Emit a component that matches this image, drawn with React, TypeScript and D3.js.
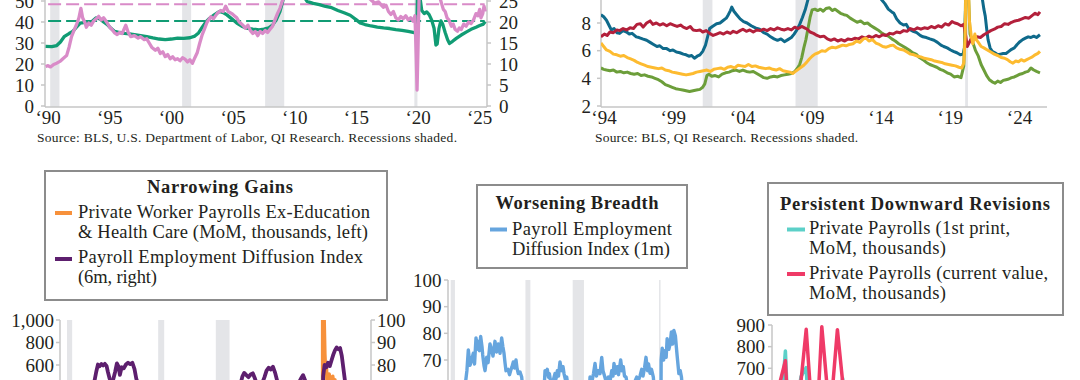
import React from 'react';
import * as d3 from 'd3';

type P = [number, number];

// ---------- Top-left panel ----------
const TL_X_TICKS = [1990, 1995, 2000, 2005, 2010, 2015, 2020, 2025];
const TL_X_LABELS = ['‘90', '‘95', '‘00', '‘05', '‘10', '‘15', '‘20', '‘25'];
const TL_LEFT_TICKS = [0, 10, 20, 30, 40, 50];
const TL_RIGHT_TICKS = [0, 5, 10, 15, 20, 25];
const TL_RECESSIONS: P[] = [[1990.17, 1990.92], [2000.87, 2001.6], [2007.6, 2009.15], [2019.7, 2019.95]];
const TL_GREEN_AVG = 40.5; // left axis
const TL_PINK_AVG = 24.2; // right axis
const TL_GREEN: P[] = [[1989.8,28.4],[1990.3,28.3],[1990.7,28.8],[1991.0,30.5],[1991.3,33],[1991.7,34.5],[1992.0,35.5],[1992.3,37.5],[1992.6,39.5],[1993.0,39.8],[1993.3,39],[1993.6,40.5],[1993.9,42],[1994.2,41.5],[1994.5,40],[1994.8,38.8],[1995.1,37],[1995.4,35.5],[1995.8,35],[1996.2,34.6],[1996.6,34.3],[1997.0,34],[1997.5,33.5],[1998.0,33],[1998.5,32.4],[1999.0,31.9],[1999.5,31.6],[2000.0,31.9],[2000.5,32.3],[2001.0,32.2],[2001.5,32.5],[2001.9,33.3],[2002.2,34.8],[2002.5,37.5],[2002.8,40],[2003.1,41.8],[2003.5,43.5],[2003.9,45],[2004.2,44.5],[2004.5,43.4],[2004.9,41.5],[2005.3,39.5],[2005.7,38],[2006.1,37.1],[2006.6,36.6],[2007.1,36.3],[2007.5,36.6],[2007.9,37.2],[2008.2,38.5],[2008.5,41],[2008.8,45],[2009.05,50.5],[2009.3,56],[2009.8,60],[2010.3,57],[2010.7,52.5],[2011.0,49.8],[2011.5,48.9],[2012.0,48.3],[2012.5,47.4],[2013.0,46.8],[2013.5,45.5],[2014.0,44.4],[2014.5,43.2],[2015.0,41],[2015.3,39.6],[2015.7,38.8],[2016.2,38.1],[2016.7,37.6],[2017.2,37.2],[2017.7,36.9],[2018.2,36.4],[2018.7,36],[2019.2,35.5],[2019.6,35.1],[2019.8,34.8],[2019.9,35],[2020.0,70],[2020.15,52],[2020.3,45.5],[2020.5,44],[2020.7,44.8],[2020.9,43.5],[2021.1,41],[2021.3,37],[2021.45,29],[2021.55,29.5],[2021.7,37],[2021.85,40.5],[2022.0,39],[2022.2,35],[2022.4,31.5],[2022.55,29.8],[2022.8,30.8],[2023.1,32.2],[2023.5,33.8],[2023.9,35.2],[2024.3,36.5],[2024.7,37.5],[2025.0,38.3],[2025.3,39],[2025.45,40.2]];
const TL_PINK: P[] = [[1989.8,9.4],[1990.0,9.6],[1990.2,9.3],[1990.45,9.9],[1990.7,10.2],[1991.0,10.7],[1991.2,11.25],[1991.5,12],[1991.7,14],[1991.9,16.5],[1992.1,18],[1992.3,19.35],[1992.5,21],[1992.66,23.25],[1992.8,21],[1993.0,19.75],[1993.1,18.75],[1993.3,19.75],[1993.5,19.25],[1993.7,20.25],[1993.9,20.75],[1994.1,21.35],[1994.3,20.5],[1994.5,21],[1994.8,19.75],[1995.0,18.75],[1995.2,18.15],[1995.4,17.4],[1995.6,17],[1995.8,17.5],[1996.0,17.25],[1996.3,19.25],[1996.5,17.5],[1996.7,16.5],[1997.0,16.75],[1997.3,16.15],[1997.5,16.5],[1997.8,15.8],[1998.0,16],[1998.2,15],[1998.4,14],[1998.7,13.25],[1998.9,13.75],[1999.1,12.5],[1999.3,12.9],[1999.5,11.75],[1999.7,12.25],[1999.9,11.25],[2000.1,11.75],[2000.3,11],[2000.5,11.25],[2000.7,10.75],[2000.9,11.5],[2001.1,11.15],[2001.3,10.5],[2001.5,11],[2001.7,10.15],[2001.9,11.5],[2002.1,12.75],[2002.3,15],[2002.5,17],[2002.7,18.5],[2002.9,20],[2003.2,21.25],[2003.4,20.75],[2003.7,22],[2004.0,22.75],[2004.2,22.5],[2004.4,23.75],[2004.6,22.5],[2004.9,22],[2005.1,21.5],[2005.3,21],[2005.5,20],[2005.8,19.25],[2006.0,18.5],[2006.2,19.25],[2006.4,18],[2006.6,17.25],[2006.8,17.75],[2007.0,16.75],[2007.2,17.75],[2007.4,17.25],[2007.6,18],[2007.8,17.5],[2008.0,18.25],[2008.2,19],[2008.4,20.5],[2008.6,22],[2008.8,23.25],[2009.0,25],[2009.3,27],[2010.0,28.5],[2011.0,30],[2012.0,31],[2013.0,30.5],[2014.0,29],[2015.0,27.5],[2015.8,26.3],[2016.2,25.2],[2016.5,24.5],[2016.8,24.8],[2017.0,24.1],[2017.2,23.5],[2017.4,24],[2017.6,22.5],[2017.8,21.8],[2018.0,22.5],[2018.2,21],[2018.4,20.5],[2018.6,21.3],[2018.8,20.8],[2019.0,21.5],[2019.2,20.5],[2019.4,21],[2019.6,20.2],[2019.75,21.5],[2019.85,12],[2019.92,3.8],[2020.0,14],[2020.1,28],[2020.5,35],[2021.0,32],[2021.5,28],[2021.8,25.5],[2021.9,24.5],[2022.05,23],[2022.2,22.5],[2022.35,21],[2022.5,20.5],[2022.7,19],[2022.85,19.5],[2023.0,18.3],[2023.2,17.8],[2023.35,18.6],[2023.5,18.2],[2023.7,19.5],[2023.9,19],[2024.1,20],[2024.3,19.6],[2024.5,20.5],[2024.7,22],[2024.85,21.5],[2025.0,23],[2025.1,21],[2025.25,22],[2025.35,23.8],[2025.45,22.5]];
const TL_SOURCE = 'Source: BLS, U.S. Department of Labor, QI Research. Recessions shaded.';

// ---------- Top-right panel ----------
const TR_X_TICKS = [1994, 1999, 2004, 2009, 2014, 2019, 2024];
const TR_X_LABELS = ['‘94', '‘99', '‘04', '‘09', '‘14', '‘19', '‘24'];
const TR_Y_TICKS = [2, 4, 6, 8];
const RECESSIONS: P[] = [[1990.6, 1991.2], [2001.2, 2001.9], [2007.9, 2009.5], [2020.15, 2020.35]];
const TR_BLUE: P[] = [[1993.85,8.6],[1994.05,8.45],[1994.25,8.2],[1994.45,7.8],[1994.6,7.5],[1994.8,7.6],[1995.0,7.3],[1995.2,7.25],[1995.45,7.45],[1995.7,7.35],[1995.9,7.2],[1996.1,7.25],[1996.4,7.0],[1996.6,6.95],[1996.85,6.85],[1997.15,6.75],[1997.4,6.6],[1997.65,6.45],[1997.9,6.3],[1998.1,6.35],[1998.35,6.15],[1998.6,6.15],[1998.85,6.0],[1999.05,6.05],[1999.3,5.9],[1999.55,5.85],[1999.8,5.75],[2000.0,5.7],[2000.2,5.6],[2000.4,5.65],[2000.6,5.45],[2000.8,5.6],[2001.0,5.7],[2001.2,5.95],[2001.4,6.4],[2001.55,7.0],[2001.7,7.6],[2001.9,7.75],[2002.2,7.95],[2002.45,8.0],[2002.7,8.2],[2002.9,8.35],[2003.05,8.6],[2003.2,8.9],[2003.3,9.15],[2003.45,8.85],[2003.65,8.6],[2003.9,8.3],[2004.15,8.1],[2004.4,8.0],[2004.7,7.8],[2005.0,7.65],[2005.3,7.55],[2005.6,7.3],[2005.85,7.2],[2006.1,7.0],[2006.35,6.85],[2006.6,6.75],[2006.85,6.85],[2007.1,6.65],[2007.35,6.8],[2007.6,6.95],[2007.8,7.2],[2008.0,7.5],[2008.2,7.9],[2008.4,8.4],[2008.6,8.95],[2008.8,9.7],[2009.0,10.6],[2009.5,12.2],[2010.0,13.0],[2010.5,13.2],[2011.0,12.9],[2011.5,12.4],[2012.0,11.8],[2012.5,11.2],[2013.0,10.8],[2013.5,10.3],[2013.9,10.0],[2014.1,9.7],[2014.35,9.4],[2014.6,9.0],[2014.85,8.8],[2015.0,8.7],[2015.2,8.3],[2015.45,8.0],[2015.7,7.85],[2015.9,7.9],[2016.1,7.55],[2016.4,7.4],[2016.65,7.3],[2016.9,7.1],[2017.1,7.0],[2017.35,6.95],[2017.6,6.85],[2017.9,6.75],[2018.15,6.6],[2018.4,6.4],[2018.6,6.3],[2018.85,6.2],[2019.1,6.05],[2019.3,5.95],[2019.55,5.85],[2019.8,5.7],[2020.0,5.75],[2020.1,6.2],[2020.2,10],[2020.3,18],[2020.5,16],[2020.8,13.5],[2021.0,12],[2021.2,11],[2021.35,10],[2021.5,9.0],[2021.6,8.5],[2021.7,7.6],[2021.8,6.8],[2021.95,6.2],[2022.1,5.95],[2022.3,5.85],[2022.5,5.7],[2022.7,5.75],[2022.9,5.8],[2023.1,5.8],[2023.3,5.95],[2023.5,6.1],[2023.7,6.2],[2023.9,6.45],[2024.1,6.65],[2024.3,6.8],[2024.5,6.9],[2024.7,7.0],[2024.9,6.95],[2025.1,7.05],[2025.3,6.95],[2025.55,7.15]];
const TR_RED: P[] = [[1993.85,7.0],[1994.1,7.2],[1994.3,7.1],[1994.5,7.35],[1994.75,7.3],[1995.0,7.5],[1995.2,7.45],[1995.45,7.6],[1995.7,7.5],[1995.95,7.65],[1996.2,7.6],[1996.45,7.9],[1996.7,7.95],[1996.9,7.7],[1997.15,8.0],[1997.4,8.15],[1997.6,7.9],[1997.85,8.0],[1998.1,7.85],[1998.35,7.95],[1998.6,7.8],[1998.85,7.95],[1999.1,7.85],[1999.35,7.75],[1999.6,7.85],[1999.8,7.7],[2000.05,7.6],[2000.3,7.75],[2000.5,7.5],[2000.75,7.45],[2001.0,7.5],[2001.2,7.35],[2001.45,7.45],[2001.7,7.25],[2001.95,7.1],[2002.2,7.2],[2002.45,7.3],[2002.7,7.2],[2002.95,7.35],[2003.2,7.25],[2003.4,7.4],[2003.65,7.3],[2003.9,7.45],[2004.1,7.55],[2004.35,7.4],[2004.6,7.5],[2004.85,7.35],[2005.1,7.5],[2005.35,7.45],[2005.6,7.55],[2005.85,7.45],[2006.1,7.6],[2006.35,7.5],[2006.6,7.65],[2006.85,7.55],[2007.1,7.5],[2007.35,7.6],[2007.6,7.5],[2007.85,7.7],[2008.1,7.6],[2008.35,7.75],[2008.55,7.65],[2008.75,7.55],[2008.95,7.35],[2009.2,7.25],[2009.45,7.1],[2009.7,7.0],[2009.95,7.05],[2010.2,6.85],[2010.45,6.75],[2010.7,6.85],[2010.95,6.7],[2011.2,6.8],[2011.45,6.7],[2011.7,6.85],[2011.95,6.8],[2012.2,6.9],[2012.45,6.85],[2012.7,7.0],[2012.95,6.9],[2013.2,7.05],[2013.45,6.95],[2013.7,7.1],[2013.95,7.0],[2014.2,7.15],[2014.45,7.1],[2014.7,7.25],[2014.95,7.2],[2015.2,7.35],[2015.45,7.3],[2015.7,7.45],[2015.95,7.4],[2016.2,7.6],[2016.45,7.5],[2016.7,7.65],[2016.95,7.55],[2017.2,7.65],[2017.45,7.6],[2017.7,7.75],[2017.95,7.65],[2018.2,7.8],[2018.45,7.7],[2018.7,7.95],[2018.95,7.85],[2019.2,8.1],[2019.4,8.0],[2019.6,7.95],[2019.85,7.8],[2020.05,7.9],[2020.2,7.0],[2020.3,6.3],[2020.45,6.6],[2020.6,6.9],[2020.8,6.8],[2021.0,7.0],[2021.25,6.95],[2021.5,7.15],[2021.75,7.3],[2022.0,7.45],[2022.25,7.55],[2022.5,7.7],[2022.75,7.75],[2023.0,7.95],[2023.25,7.9],[2023.5,8.05],[2023.75,8.15],[2024.0,8.2],[2024.25,8.3],[2024.5,8.4],[2024.75,8.35],[2025.0,8.55],[2025.2,8.7],[2025.4,8.6],[2025.55,8.8]];
const TR_YELLOW: P[] = [[1993.85,6.55],[1994.05,6.3],[1994.25,6.05],[1994.5,5.95],[1994.75,5.75],[1995.0,5.7],[1995.25,5.6],[1995.5,5.65],[1995.75,5.5],[1996.0,5.4],[1996.25,5.3],[1996.5,5.15],[1996.75,5.05],[1997.0,4.95],[1997.25,4.85],[1997.5,4.8],[1997.75,4.75],[1998.0,4.7],[1998.25,4.75],[1998.5,4.6],[1998.75,4.55],[1999.0,4.45],[1999.25,4.4],[1999.5,4.35],[1999.75,4.3],[2000.0,4.25],[2000.25,4.3],[2000.5,4.35],[2000.75,4.45],[2001.0,4.5],[2001.25,4.55],[2001.5,4.6],[2001.75,4.5],[2002.0,4.65],[2002.25,4.7],[2002.5,4.75],[2002.75,4.65],[2003.0,4.8],[2003.25,4.85],[2003.5,4.75],[2003.75,4.95],[2004.0,4.9],[2004.25,4.85],[2004.5,5.0],[2004.75,4.85],[2005.0,4.9],[2005.25,4.8],[2005.5,4.75],[2005.75,4.7],[2006.0,4.75],[2006.25,4.65],[2006.5,4.6],[2006.75,4.7],[2007.0,4.55],[2007.25,4.5],[2007.5,4.45],[2007.7,4.35],[2007.9,4.5],[2008.1,4.65],[2008.3,4.8],[2008.5,4.95],[2008.7,5.15],[2008.9,5.4],[2009.1,5.6],[2009.3,5.75],[2009.55,5.85],[2009.8,6.0],[2010.05,5.95],[2010.3,6.15],[2010.55,6.25],[2010.8,6.2],[2011.05,6.3],[2011.3,6.4],[2011.55,6.35],[2011.8,6.45],[2012.05,6.5],[2012.3,6.7],[2012.55,6.6],[2012.8,6.85],[2013.0,6.9],[2013.2,6.7],[2013.45,6.8],[2013.7,6.55],[2013.95,6.45],[2014.2,6.3],[2014.45,6.25],[2014.7,6.35],[2014.95,6.4],[2015.2,6.2],[2015.45,6.1],[2015.7,6.05],[2015.95,5.9],[2016.2,5.75],[2016.45,5.7],[2016.7,5.6],[2016.95,5.55],[2017.2,5.45],[2017.45,5.4],[2017.7,5.35],[2017.95,5.25],[2018.2,5.2],[2018.45,5.15],[2018.7,5.05],[2018.95,5.0],[2019.2,4.95],[2019.45,4.9],[2019.7,4.8],[2019.9,4.75],[2020.05,5.1],[2020.15,7],[2020.25,15],[2020.35,12],[2020.45,8.2],[2020.6,7.0],[2020.7,6.5],[2020.85,7.2],[2020.95,6.8],[2021.1,6.6],[2021.3,6.3],[2021.5,6.2],[2021.75,6.05],[2022.0,5.9],[2022.25,5.75],[2022.5,5.65],[2022.75,5.5],[2023.0,5.45],[2023.2,5.35],[2023.4,5.2],[2023.6,5.1],[2023.8,5.25],[2024.0,5.2],[2024.2,5.35],[2024.4,5.25],[2024.6,5.35],[2024.8,5.45],[2025.0,5.55],[2025.2,5.7],[2025.4,5.8],[2025.55,5.95]];
const TR_GREEN: P[] = [[1993.85,4.75],[1994.05,4.65],[1994.25,4.6],[1994.5,4.55],[1994.75,4.6],[1995.0,4.45],[1995.25,4.5],[1995.5,4.4],[1995.75,4.45],[1996.0,4.35],[1996.25,4.3],[1996.5,4.35],[1996.75,4.2],[1997.0,4.25],[1997.25,4.15],[1997.5,4.1],[1997.75,4.0],[1998.0,3.9],[1998.25,3.75],[1998.5,3.55],[1998.75,3.45],[1999.0,3.35],[1999.25,3.25],[1999.5,3.2],[1999.75,3.15],[2000.0,3.1],[2000.25,3.05],[2000.5,3.1],[2000.75,3.15],[2001.0,3.2],[2001.2,3.35],[2001.35,3.6],[2001.5,4.2],[2001.65,4.3],[2001.85,4.15],[2002.1,4.2],[2002.35,4.1],[2002.6,4.3],[2002.85,4.4],[2003.1,4.45],[2003.35,4.55],[2003.6,4.6],[2003.85,4.5],[2004.1,4.6],[2004.35,4.5],[2004.6,4.45],[2004.85,4.5],[2005.1,4.35],[2005.35,4.2],[2005.6,4.05],[2005.85,4.0],[2006.1,4.1],[2006.35,4.15],[2006.6,4.1],[2006.85,4.2],[2007.1,4.25],[2007.35,4.3],[2007.6,4.35],[2007.85,4.5],[2008.05,4.75],[2008.2,5.0],[2008.35,5.5],[2008.5,6.2],[2008.65,6.8],[2008.8,7.6],[2008.95,8.4],[2009.1,8.95],[2009.3,9.0],[2009.5,8.9],[2009.7,9.0],[2009.9,8.85],[2010.1,9.05],[2010.35,9.1],[2010.55,8.9],[2010.75,9.0],[2010.95,8.85],[2011.15,8.7],[2011.4,8.6],[2011.6,8.55],[2011.85,8.35],[2012.1,8.2],[2012.35,8.05],[2012.6,8.15],[2012.85,7.95],[2013.1,8.0],[2013.35,7.8],[2013.6,7.65],[2013.85,7.5],[2014.1,7.3],[2014.35,7.15],[2014.6,7.05],[2014.85,6.85],[2015.1,6.7],[2015.35,6.5],[2015.6,6.35],[2015.85,6.2],[2016.1,6.05],[2016.35,5.85],[2016.6,5.75],[2016.85,5.5],[2017.1,5.35],[2017.35,5.15],[2017.6,5.0],[2017.85,4.9],[2018.1,4.8],[2018.35,4.65],[2018.6,4.55],[2018.85,4.4],[2019.1,4.3],[2019.35,4.1],[2019.6,4.15],[2019.85,4.05],[2020.05,4.9],[2020.15,8],[2020.25,15],[2020.35,11],[2020.5,7.2],[2020.7,6.6],[2020.9,6.0],[2021.1,5.6],[2021.3,5.0],[2021.5,4.6],[2021.7,4.2],[2021.9,3.9],[2022.1,3.75],[2022.3,3.65],[2022.5,3.8],[2022.7,3.7],[2022.9,3.85],[2023.1,3.9],[2023.3,3.95],[2023.5,4.05],[2023.7,4.1],[2023.9,4.2],[2024.1,4.3],[2024.3,4.35],[2024.5,4.45],[2024.7,4.5],[2024.9,4.75],[2025.1,4.6],[2025.3,4.5],[2025.55,4.4]];
const TR_SOURCE = 'Source: BLS, QI Research. Recessions shaded.';

// ---------- Bottom-left: Narrowing Gains ----------
const BL_TITLE = 'Narrowing Gains';
const BL_LEGEND_1 = ['Private Worker Payrolls Ex-Education', '& Health Care (MoM, thousands, left)'];
const BL_LEGEND_2 = ['Payroll Employment Diffusion Index', '(6m, right)'];
const BL_LEFT_TICKS = [1000, 800, 600];
const BL_LEFT_LABELS = ['1,000', '800', '600'];
const BL_RIGHT_TICKS = [100, 90, 80];
const BL_ORANGE: P[] = [[1990.0,60],[1990.8,-80],[1991.5,-20],[1992,80],[1993,180],[1994,250],[1995,120],[1996,170],[1997,190],[1998,150],[1999,170],[2000,120],[2001.0,-50],[2001.8,-200],[2002.5,-30],[2003.5,40],[2004.5,150],[2005.5,140],[2006.5,100],[2007.5,20],[2008.5,-250],[2009.0,-600],[2009.5,-300],[2010.3,50],[2011,120],[2012,110],[2013,120],[2014,160],[2015,140],[2016,110],[2017,100],[2018,130],[2019,90],[2019.9,110],[2020.17,-1200],[2020.25,-14000],[2020.33,2600],[2020.42,3400],[2020.5,1000],[2020.58,700],[2020.67,540],[2020.75,620],[2020.83,430],[2020.92,250],[2021.0,310],[2021.08,520],[2021.17,480],[2021.25,210],[2021.33,330],[2021.42,460],[2021.5,500],[2021.58,380],[2021.67,300],[2021.75,470],[2021.83,380],[2021.92,350],[2022.0,320],[2022.5,250],[2023,120],[2023.5,60],[2024,50],[2024.5,40],[2025,30],[2025.5,20]];
const BL_PURPLE: P[] = [[1990.0,52],[1990.5,48],[1991.0,38],[1991.5,45],[1992.0,55],[1992.5,62],[1993.0,68],[1993.5,71],[1993.8,73],[1994.0,77],[1994.2,80.2],[1994.4,79.5],[1994.6,80.4],[1994.8,79.8],[1995.0,80.5],[1995.2,79.6],[1995.35,77],[1995.55,74],[1995.8,72],[1996.0,74],[1996.2,77],[1996.4,80.7],[1996.6,79.3],[1996.75,75.6],[1996.95,79],[1997.2,78.5],[1997.45,80.2],[1997.7,81],[1997.95,80.4],[1998.2,81],[1998.45,78.2],[1998.65,74],[1998.9,71],[1999.3,70],[1999.8,68],[2000.3,66],[2000.8,58],[2001.3,45],[2001.8,38],[2002.3,42],[2002.8,50],[2003.5,56],[2004.2,63],[2005.0,66],[2005.8,64],[2006.5,66],[2007.2,60],[2007.8,52],[2008.4,38],[2009.0,22],[2009.5,28],[2010.0,52],[2010.5,66],[2010.8,72],[2011.0,75],[2011.2,76.5],[2011.45,75.5],[2011.7,74.6],[2011.95,75.8],[2012.2,76.3],[2012.45,74],[2012.8,70],[2013.2,71],[2013.55,74.5],[2013.8,77.5],[2014.05,78.8],[2014.3,78],[2014.55,79.2],[2014.8,76.5],[2015.1,72],[2015.6,68],[2016.2,66],[2016.8,68],[2017.4,71],[2017.8,74],[2018.05,75.5],[2018.3,73],[2018.8,69],[2019.4,66],[2019.9,62],[2020.15,40],[2020.3,30],[2020.38,75],[2020.55,80],[2020.75,79],[2020.95,81],[2021.15,79.5],[2021.35,82],[2021.55,84.5],[2021.75,86.5],[2021.95,87.8],[2022.15,87],[2022.35,87.5],[2022.55,84],[2022.75,78],[2022.95,72],[2023.4,67],[2023.9,63],[2024.4,62],[2024.9,60],[2025.4,58]];

// ---------- Bottom-middle: Worsening Breadth ----------
const BM_TITLE = 'Worsening Breadth';
const BM_LEGEND = ['Payroll Employment', 'Diffusion Index (1m)'];
const BM_TICKS = [100, 90, 80, 70];
const BM_BLUE: P[] = [[1990.0,55],[1990.5,50],[1991.0,40],[1991.5,45],[1992.0,52],[1992.4,58],[1992.63,60],[1992.9,66],[1993.1,73.8],[1993.34,68],[1993.58,70],[1993.8,72.5],[1993.98,68.5],[1994.19,78.3],[1994.33,74],[1994.5,77],[1994.68,73.5],[1994.85,78.8],[1995.04,75],[1995.14,71.9],[1995.32,68],[1995.47,66],[1995.7,71],[1995.9,69],[1996.17,76],[1996.4,73.8],[1996.6,71.5],[1996.88,77],[1997.1,73],[1997.35,76],[1997.6,72.5],[1997.83,78.3],[1998.0,75],[1998.16,72.5],[1998.3,69],[1998.44,66],[1998.73,66.5],[1998.94,64.5],[1999.1,66],[1999.3,67.5],[1999.48,69.3],[1999.65,67],[1999.86,70],[2000.0,67],[2000.19,64.9],[2000.43,65.5],[2000.67,63.6],[2000.86,58],[2001.2,45],[2001.8,38],[2002.3,46],[2003.0,52],[2003.6,58],[2003.9,62],[2003.98,66],[2004.12,64.5],[2004.3,66.5],[2004.47,63.5],[2004.59,64.9],[2004.83,61],[2005.11,62],[2005.39,64.9],[2005.54,63],[2005.72,66],[2005.89,64],[2006.1,69.3],[2006.32,66],[2006.53,67.5],[2006.67,64.9],[2006.88,62.5],[2007.05,63.6],[2007.24,60],[2007.8,50],[2008.5,35],[2009.0,25],[2009.5,40],[2010.0,55],[2010.3,60],[2010.36,63.6],[2010.64,62],[2010.86,65],[2011.07,68.7],[2011.28,64],[2011.5,66],[2011.78,64.9],[2012.02,71],[2012.2,66],[2012.42,64],[2012.63,62],[2012.96,63.6],[2013.2,62],[2013.44,66],[2013.62,64],[2013.76,68.7],[2013.98,65],[2014.23,67.5],[2014.4,64.5],[2014.54,67],[2014.71,70],[2014.9,66],[2015.08,67.5],[2015.25,64],[2015.47,63.6],[2015.68,60],[2016.0,58],[2016.5,60.5],[2016.98,63.6],[2017.24,62.5],[2017.45,64],[2017.69,66.5],[2017.88,64],[2018.09,67],[2018.3,71],[2018.52,66],[2018.66,68.5],[2018.87,65],[2019.08,66.5],[2019.34,63.6],[2019.5,58],[2019.8,55],[2020.1,60],[2020.25,10],[2020.4,40],[2020.45,70],[2020.6,74.4],[2020.8,70],[2020.97,73.5],[2021.16,71],[2021.3,78],[2021.54,74],[2021.72,76],[2021.9,80.5],[2022.08,76],[2022.25,81.1],[2022.47,79],[2022.6,75],[2022.7,72],[2022.96,64.9],[2023.15,66],[2023.33,63.6],[2023.5,58],[2024.0,55],[2024.5,57],[2025.0,52],[2025.4,50]];

// ---------- Bottom-right: Persistent Downward Revisions ----------
const BR_TITLE = 'Persistent Downward Revisions';
const BR_LEGEND_1 = ['Private Payrolls (1st print,', 'MoM, thousands)'];
const BR_LEGEND_2 = ['Private Payrolls (current value,', 'MoM, thousands)'];
const BR_TICKS = [900, 800, 700];
// monthly, Jan 2021 .. Jun 2025
const BR_FIRST = [6,465,780,218,492,662,703,243,317,604,235,211, 444,654,426,406,333,381,471,308,288,233,221,220, 443,265,189,230,283,149,172,179,263,99,150,164, 317,223,232,167,229,136,97,118,223,-28,194,223, 111,140,209,167,140,74];
const BR_CURRENT = [520,640,735,250,470,640,880,530,420,892,620,590, 878,640,420,300,330,300,520,320,280,300,240,180, 420,230,110,180,200,150,150,120,200,80,120,220, 100,180,200,100,170,90,60,70,200,10,200,270, 80,100,120,130,110,70];

const C = {
  tlGreen: '#119c74', tlPink: '#d98bc8',
  trBlue: '#0f6a8b', trRed: '#b3203b', trYellow: '#fdbb30', trGreen: '#6c9e3a',
  orange: '#f7913b', purple: '#5d1f6e', bmBlue: '#66a5de', teal: '#5cd0c8', pinkRed: '#ef3a67',
  rec: '#e4e5e8', axis: '#c6c6c6', text: '#231f20', box: '#8c8c8c',
};

const mk = (xs: any, ys: any, data: P[]) => d3.line<P>().x(d => xs(d[0])).y(d => ys(d[1]))(data) || '';

export default function App() {
  const F = "'Liberation Serif','Times New Roman',serif";

  const xTL = d3.scaleLinear().domain([1990, 2025]).range([48.1, 479.7]);
  const yTL = d3.scaleLinear().domain([0, 50]).range([106, 1]);
  const yTLR = d3.scaleLinear().domain([0, 25]).range([106, 1]);

  const xTR = d3.scaleLinear().domain([1994, 2024]).range([603, 1018.5]);
  const yTR = d3.scaleLinear().domain([2, 8]).range([106, 23]);

  const xBL = d3.scaleLinear().domain([1990.6, 2020.2]).range([67, 321.6]);
  const yBL = d3.scaleLinear().domain([600, 1000]).range([365, 320]);
  const yBLR = d3.scaleLinear().domain([80, 100]).range([365, 320]);

  const xBM = d3.scaleLinear().domain([1990.6, 2020.2]).range([450.7, 659.4]);
  const yBM = d3.scaleLinear().domain([70, 100]).range([360, 280]);

  const xBR = d3.scaleLinear().domain([0, 53]).range([775, 1050.6]);
  const yBR = d3.scaleLinear().domain([700, 900]).range([368.3, 325]);
  const brFirst: P[] = BR_FIRST.map((v, i) => [i, v]);
  const brCur: P[] = BR_CURRENT.map((v, i) => [i, v]);

  const tick = { fontSize: 19, fill: C.text };

  return (
    <svg width={1080} height={380} style={{ position: 'absolute', left: 0, top: 0, background: '#fff' }} fontFamily={F}>
      <defs>
        <clipPath id="clipBL"><rect x={60} y={320} width={311} height={80} /></clipPath>
        <clipPath id="clipTL"><rect x={45} y={-20} width={442} height={127} /></clipPath>
        <clipPath id="clipTR"><rect x={601} y={-20} width={446} height={127} /></clipPath>
      </defs>
      <rect x={0} y={0} width={1080} height={380} fill="#fff" />

      {/* ===== Top-left ===== */}
      {TL_RECESSIONS.map((r, i) => (
        <rect key={i} x={xTL(r[0])} y={0} width={xTL(r[1]) - xTL(r[0])} height={107} fill={C.rec} />
      ))}
      <line x1={45} y1={0} x2={45} y2={107} stroke={C.axis} strokeWidth={1.5} />
      <line x1={487} y1={0} x2={487} y2={107} stroke={C.axis} strokeWidth={1.5} />
      <line x1={45} y1={107} x2={487} y2={107} stroke={C.axis} strokeWidth={1.5} />
      {TL_LEFT_TICKS.map(t => (
        <g key={t}>
          <line x1={41} x2={45} y1={yTL(t)} y2={yTL(t)} stroke={C.axis} strokeWidth={1.5} />
          <text x={34} y={yTL(t)} dy="0.35em" textAnchor="end" {...tick}>{t}</text>
        </g>
      ))}
      {TL_RIGHT_TICKS.map(t => (
        <g key={t}>
          <line x1={487} x2={491} y1={yTLR(t)} y2={yTLR(t)} stroke={C.axis} strokeWidth={1.5} />
          <text x={499} y={yTLR(t)} dy="0.35em" textAnchor="start" {...tick}>{t}</text>
        </g>
      ))}
      {TL_X_TICKS.map((t, i) => (
        <text key={t} x={xTL(t)} y={124} textAnchor="middle" {...tick}>{TL_X_LABELS[i]}</text>
      ))}
      <g clipPath="url(#clipTL)">
        <line x1={xTL(1990)} x2={xTL(2025.4)} y1={yTLR(TL_PINK_AVG)} y2={yTLR(TL_PINK_AVG)} stroke={C.tlPink} strokeWidth={2} strokeDasharray="13 5" />
        <line x1={xTL(1990)} x2={xTL(2025.4)} y1={yTL(TL_GREEN_AVG)} y2={yTL(TL_GREEN_AVG)} stroke={C.tlGreen} strokeWidth={2} strokeDasharray="13 5" />
        <path d={mk(xTL, yTL, TL_GREEN)} fill="none" stroke={C.tlGreen} strokeWidth={3.3} strokeLinejoin="round" />
        <path d={mk(xTL, yTLR, TL_PINK)} fill="none" stroke={C.tlPink} strokeWidth={3.3} strokeLinejoin="round" />
      </g>
      <text x={37} y={142} fontSize={13.5} fill={C.text} textLength={420}>{TL_SOURCE}</text>

      {/* ===== Top-right ===== */}
      {RECESSIONS.filter(r => r[0] > 1994).map((r, i) => (
        <rect key={i} x={xTR(r[0])} y={0} width={xTR(r[1]) - xTR(r[0])} height={107} fill={C.rec} />
      ))}
      <line x1={601} y1={0} x2={601} y2={107} stroke={C.axis} strokeWidth={1.5} />
      <line x1={601} y1={107} x2={1047} y2={107} stroke={C.axis} strokeWidth={1.5} />
      {TR_Y_TICKS.map(t => (
        <g key={t}>
          <line x1={597} x2={601} y1={yTR(t)} y2={yTR(t)} stroke={C.axis} strokeWidth={1.5} />
          <text x={591} y={yTR(t)} dy="0.35em" textAnchor="end" {...tick}>{t}</text>
        </g>
      ))}
      {TR_X_TICKS.map((t, i) => (
        <text key={t} x={xTR(t) + 1} y={124} textAnchor="middle" {...tick}>{TR_X_LABELS[i]}</text>
      ))}
      <g clipPath="url(#clipTR)" fill="none" strokeWidth={3} strokeLinejoin="round">
        <path d={mk(xTR, yTR, TR_BLUE)} stroke={C.trBlue} />
        <path d={mk(xTR, yTR, TR_GREEN)} stroke={C.trGreen} />
        <path d={mk(xTR, yTR, TR_RED)} stroke={C.trRed} />
        <path d={mk(xTR, yTR, TR_YELLOW)} stroke={C.trYellow} />
      </g>
      <text x={595} y={142} fontSize={13.5} fill={C.text} textLength={263}>{TR_SOURCE}</text>

      {/* ===== Bottom-left ===== */}
      <rect x={45} y={171} width={342} height={129} fill="#fff" stroke={C.box} strokeWidth={2} />
      <text x={220} y={193} textAnchor="middle" fontSize={18.5} fontWeight="bold" fill={C.text} textLength={146}>{BL_TITLE}</text>
      <line x1={55} x2={72} y1={213} y2={213} stroke={C.orange} strokeWidth={4} />
      <text x={78} y={218} fontSize={18.5} fill={C.text} textLength={292}>{BL_LEGEND_1[0]}</text>
      <text x={78} y={238} fontSize={18.5} fill={C.text} textLength={290}>{BL_LEGEND_1[1]}</text>
      <line x1={55} x2={72} y1={259} y2={259} stroke={C.purple} strokeWidth={4} />
      <text x={78} y={263} fontSize={18.5} fill={C.text} textLength={285}>{BL_LEGEND_2[0]}</text>
      <text x={78} y={283} fontSize={18.5} fill={C.text} textLength={79}>{BL_LEGEND_2[1]}</text>

      {RECESSIONS.map((r, i) => (
        <rect key={i} x={xBL(r[0])} y={320} width={xBL(r[1]) - xBL(r[0])} height={60} fill={C.rec} />
      ))}
      <line x1={60} y1={320} x2={60} y2={380} stroke={C.axis} strokeWidth={1.5} />
      <line x1={371} y1={320} x2={371} y2={380} stroke={C.axis} strokeWidth={1.5} />
      {BL_LEFT_TICKS.map((t, i) => (
        <g key={t}>
          <line x1={56} x2={60} y1={yBL(t)} y2={yBL(t)} stroke={C.axis} strokeWidth={1.5} />
          <text x={54} y={yBL(t)} dy="0.35em" textAnchor="end" {...tick}>{BL_LEFT_LABELS[i]}</text>
        </g>
      ))}
      {BL_RIGHT_TICKS.map(t => (
        <g key={t}>
          <line x1={371} x2={375} y1={yBLR(t)} y2={yBLR(t)} stroke={C.axis} strokeWidth={1.5} />
          <text x={377} y={yBLR(t)} dy="0.35em" textAnchor="start" {...tick}>{t}</text>
        </g>
      ))}
      <g clipPath="url(#clipBL)" fill="none" strokeLinejoin="round">
        <path d={mk(xBL, yBL, BL_ORANGE)} stroke={C.orange} strokeWidth={3.5} />
        <path d={mk(xBL, yBLR, BL_PURPLE)} stroke={C.purple} strokeWidth={3.8} />
      </g>

      {/* ===== Bottom-middle ===== */}
      <rect x={477} y={185} width={210} height={83} fill="#fff" stroke={C.box} strokeWidth={2} />
      <text x={577} y={209} textAnchor="middle" fontSize={18.5} fontWeight="bold" fill={C.text} textLength={163}>{BM_TITLE}</text>
      <line x1={490} x2={507} y1={229.5} y2={229.5} stroke={C.bmBlue} strokeWidth={4} />
      <text x={512} y={235} fontSize={18.5} fill={C.text} textLength={160}>{BM_LEGEND[0]}</text>
      <text x={512} y={255} fontSize={18.5} fill={C.text} textLength={158}>{BM_LEGEND[1]}</text>

      {RECESSIONS.map((r, i) => (
        <rect key={i} x={xBM(r[0])} y={280} width={Math.max(1.5, xBM(r[1]) - xBM(r[0]))} height={100} fill={C.rec} />
      ))}
      <line x1={448} y1={280} x2={448} y2={380} stroke={C.axis} strokeWidth={1.5} />
      {BM_TICKS.map(t => (
        <g key={t}>
          <line x1={444} x2={448} y1={yBM(t)} y2={yBM(t)} stroke={C.axis} strokeWidth={1.5} />
          <text x={441.5} y={yBM(t)} dy="0.35em" textAnchor="end" {...tick}>{t}</text>
        </g>
      ))}
      <path d={mk(xBM, yBM, BM_BLUE)} fill="none" stroke={C.bmBlue} strokeWidth={3.4} strokeLinejoin="round" />

      {/* ===== Bottom-right ===== */}
      <rect x={768} y={183} width={295} height={132} fill="#fff" stroke={C.box} strokeWidth={2} />
      <text x={915} y={210} textAnchor="middle" fontSize={18.5} fontWeight="bold" fill={C.text} textLength={270}>{BR_TITLE}</text>
      <line x1={787} x2={805} y1={229.5} y2={229.5} stroke={C.teal} strokeWidth={4} />
      <text x={809} y={234} fontSize={18.5} fill={C.text} textLength={201}>{BR_LEGEND_1[0]}</text>
      <text x={809} y={254} fontSize={18.5} fill={C.text} textLength={137}>{BR_LEGEND_1[1]}</text>
      <line x1={787} x2={805} y1={274} y2={274} stroke={C.pinkRed} strokeWidth={4} />
      <text x={809} y={278.5} fontSize={18.5} fill={C.text} textLength={239}>{BR_LEGEND_2[0]}</text>
      <text x={809} y={298.5} fontSize={18.5} fill={C.text} textLength={137}>{BR_LEGEND_2[1]}</text>

      <line x1={772} y1={325} x2={772} y2={380} stroke={C.axis} strokeWidth={1.5} />
      {BR_TICKS.map(t => (
        <g key={t}>
          <line x1={768} x2={772} y1={yBR(t)} y2={yBR(t)} stroke={C.axis} strokeWidth={1.5} />
          <text x={765} y={yBR(t)} dy="0.35em" textAnchor="end" {...tick}>{t}</text>
        </g>
      ))}
      <g fill="none" strokeLinejoin="round" strokeWidth={3.5}>
        <path d={mk(xBR, yBR, brFirst)} stroke={C.teal} />
        <path d={mk(xBR, yBR, brCur)} stroke={C.pinkRed} />
      </g>
    </svg>
  );
}
